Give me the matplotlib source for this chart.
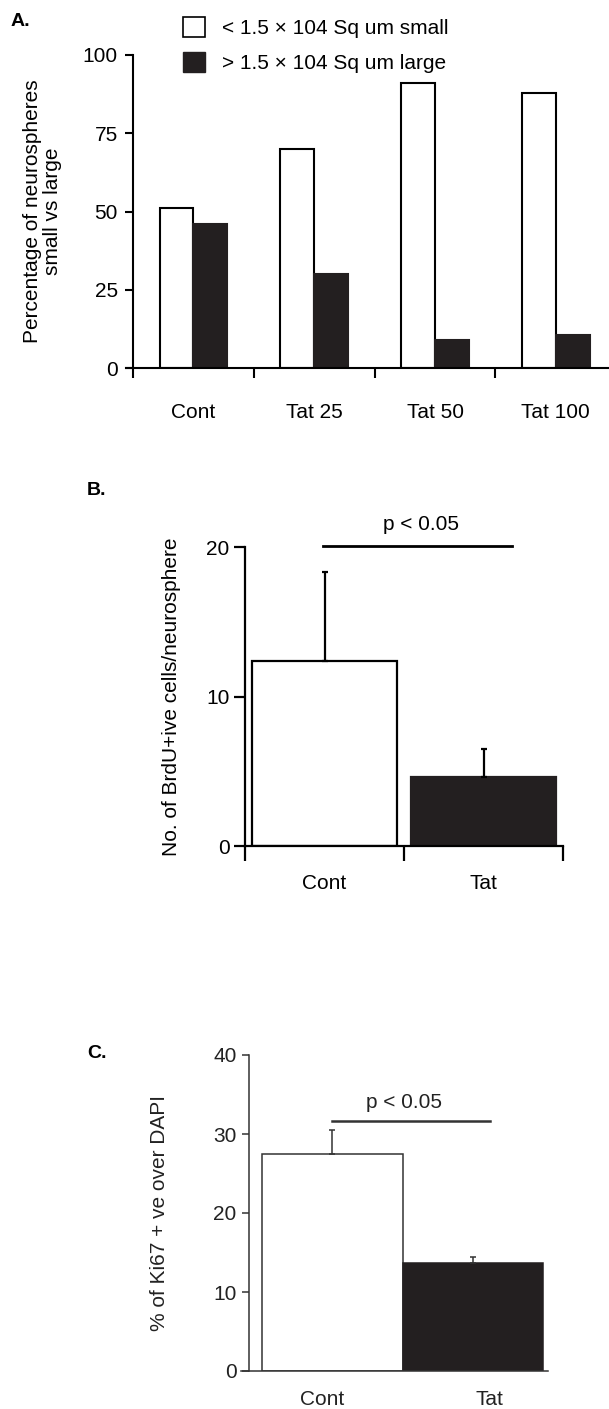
import matplotlib
matplotlib.use("Agg")
import matplotlib.pyplot as plt
from matplotlib.patches import Patch

plt.rcParams["font.family"] = ["Liberation Sans", "DejaVu Sans"]

# panel A data
groups_a = ["Cont", "Tat 25", "Tat 50", "Tat 100"]
small_a = [51, 70, 91, 88]
large_a = [46, 30, 9, 10.5]
legend_a = ["< 1.5 \u00d7 104 Sq um small", "> 1.5 \u00d7 104 Sq um large"]

# panel B data
groups_b = ["Cont", "Tat"]
brdu_mean = [12.4, 4.6]
brdu_err = [5.9, 1.9]

# panel C data
groups_c = ["Cont", "Tat"]
ki67_mean = [27.5, 13.7]
ki67_err = [3.0, 0.7]

BLACK = "#231f20"
W, H = 609, 1409
FS = 15


def px_axes(fig, x0, x1, y_top, y_bot):
    """Add axes given pixel edges (top-left origin)."""
    return fig.add_axes([x0 / W, 1 - y_bot / H, (x1 - x0) / W, (y_bot - y_top) / H])


def style_axes(ax, lw, color):
    ax.spines["top"].set_visible(False)
    ax.spines["right"].set_visible(False)
    for s in ("left", "bottom"):
        ax.spines[s].set_linewidth(lw)
        ax.spines[s].set_color(color)
    ax.tick_params(which="major", width=lw, color=color, labelsize=FS,
                   labelcolor=color)


fig = plt.figure(figsize=(W / 100, H / 100), dpi=100)

# ---------------- A ----------------
ax = px_axes(fig, 133, 609, 55, 368)
style_axes(ax, 1.5, "black")
pos = [i + 0.5 for i in range(len(groups_a))]
bw = 0.28
ax.bar([p - bw / 2 for p in pos], small_a, bw, color="white",
       edgecolor="black", linewidth=1.5, label=legend_a[0])
ax.bar([p + bw / 2 for p in pos], large_a, bw, color=BLACK,
       edgecolor=BLACK, linewidth=1.5, label=legend_a[1])
ax.set_xlim(0, 3.94)
ax.set_ylim(0, 100)
ax.set_yticks([0, 25, 50, 75, 100])
ax.set_xticks(range(len(groups_a)))
ax.set_xticklabels([])
ax.set_xticks(pos, minor=True)
ax.set_xticklabels(groups_a, minor=True)
ax.tick_params(axis="x", which="major", direction="out", length=7.5)
ax.tick_params(axis="x", which="minor", length=0, pad=25, labelsize=FS)
ax.tick_params(axis="y", direction="out", length=6, pad=5)
ax.spines["bottom"].set_bounds(-0.06, 3.94)
ax.set_ylabel("Percentage of neurospheres\nsmall vs large", fontsize=FS,
              va="center", linespacing=1.1)
ax.yaxis.set_label_coords(-0.19, 0.5)
handles = [Patch(facecolor="white", edgecolor="black", linewidth=1.2),
           Patch(facecolor=BLACK, edgecolor=BLACK)]
fig.legend(handles, legend_a, loc="upper left",
           bbox_to_anchor=(166 / W, 1 - 0 / H), frameon=False, fontsize=FS,
           handlelength=1.05, handleheight=1.15, handletextpad=0.85,
           labelspacing=0.65, borderpad=0.3)
fig.text(11 / W, 1 - 21 / H, "A.", fontsize=14, fontweight="bold", va="center")

# ---------------- B ----------------
ax = px_axes(fig, 245, 563, 547, 846)
style_axes(ax, 1.6, "black")
pos = [i + 0.5 for i in range(len(groups_b))]
ax.bar(pos, brdu_mean, 0.91, color=["white", BLACK],
       edgecolor=["black", BLACK], linewidth=1.6)
ax.errorbar(pos, brdu_mean, yerr=[[0, 0], brdu_err], fmt="none",
            ecolor="black", elinewidth=1.6, capsize=2.5, capthick=1.6)
ax.set_xlim(0, 2)
ax.set_ylim(0, 20)
ax.set_yticks([0, 10, 20])
ax.set_xticks(range(3))
ax.set_xticklabels([])
ax.set_xticks(pos, minor=True)
ax.set_xticklabels(groups_b, minor=True)
ax.tick_params(axis="x", which="major", direction="out", length=11)
ax.tick_params(axis="x", which="minor", length=0, pad=20, labelsize=FS)
ax.tick_params(axis="y", direction="out", length=8, pad=3)
ax.set_ylabel("No. of BrdU+ive cells/neurosphere", fontsize=FS, va="center")
ax.yaxis.set_label_coords(-0.23, 0.5)
ax.plot([0.49, 1.68], [20.1, 20.1], color="black", lw=2, clip_on=False)
ax.text(1.11, 21.5, "p < 0.05", ha="center", va="center", fontsize=FS)
fig.text(87 / W, 1 - 490 / H, "B.", fontsize=14, fontweight="bold", va="center")

# ---------------- C ----------------
GREY = "#333333"
ax = px_axes(fig, 249, 548, 1055, 1371)
style_axes(ax, 1.1, GREY)
pos = list(range(len(groups_c)))
ax.bar(pos, ki67_mean, 1.0, color=["white", BLACK],
       edgecolor=[GREY, BLACK], linewidth=1.1)
ax.errorbar(pos, ki67_mean, yerr=[[0, 0], ki67_err], fmt="none",
            ecolor=GREY, elinewidth=1.1, capsize=2.5, capthick=1.1)
ax.set_xlim(-0.592, 1.535)
ax.set_ylim(0, 40)
ax.set_yticks([0, 10, 20, 30, 40])
ax.set_xticks([p + d for p, d in zip(pos, [-0.07, 0.12])])
ax.set_xticklabels(groups_c)
ax.tick_params(axis="x", length=0, pad=14, labelsize=FS, labelcolor="#222222")
ax.tick_params(axis="y", direction="out", length=5, pad=4, labelcolor="#222222")
ax.spines["bottom"].set_bounds(-0.65, 1.535)
ax.set_ylabel("% of Ki67 + ve over DAPI", fontsize=FS, va="center",
              color="#222222")
ax.yaxis.set_label_coords(-0.298, 0.5)
ax.plot([0.0, 1.12], [31.6, 31.6], color=GREY, lw=1.8, clip_on=False)
ax.text(0.51, 34, "p < 0.05", ha="center", va="center", fontsize=FS,
        color="#222222")
fig.text(87 / W, 1 - 1053 / H, "C.", fontsize=14, fontweight="bold", va="center")

fig.savefig("out.png", dpi=100)
